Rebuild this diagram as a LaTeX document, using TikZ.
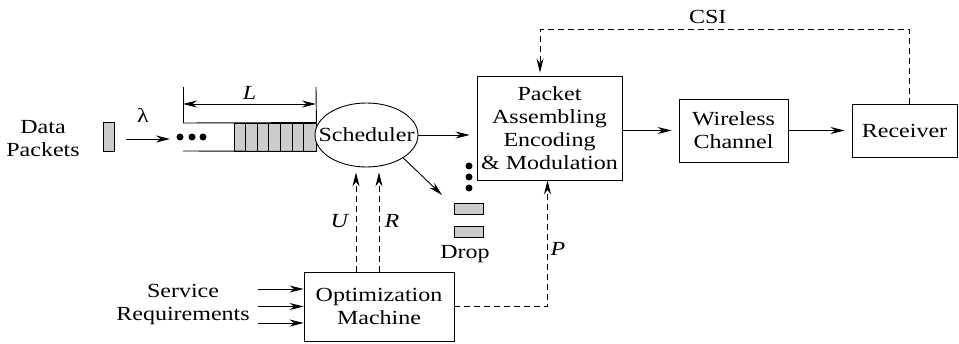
\documentclass[tikz,border=0pt]{standalone}
\usepackage{fontspec}
\setmainfont{Liberation Serif}[FakeStretch=1.2]
\usetikzlibrary{arrows.meta,shapes.geometric}
\begin{document}
\begin{tikzpicture}[x=1pt,y=-1pt,
                    font=\fontsize{20}{23}\selectfont,
                    blk/.style = {draw, line width=0.9pt,
                                  align=center, inner sep=2pt},
                    pkt/.style = {draw, line width=0.9pt, fill=gray!40,
                                  inner sep=0pt},
                    txt/.style = {align=center, inner sep=0pt},
                    arr/.style = {line width=0.9pt,
                                  -{Stealth[length=14pt,width=7pt]}},
                    dsh/.style = {line width=0.9pt,
                                  dash pattern=on 6pt off 4pt},
                    dot/.style = {circle, fill, inner sep=0pt,
                                  minimum size=7pt}]
		\useasboundingbox (0,0) rectangle (959,344);
		% incoming packets
		\node[txt] (data) at (43,139) {Data\\Packets};
		\node[pkt, minimum width=11pt, minimum height=29pt] (inpkt) at (108.5,136.5) {};
		\coordinate (lamtail) at (126,139);
		\coordinate (lamtip) at (170,139);
		\draw[arr] (lamtail) -- (lamtip);
		\node[txt] (lam) at (143,115) {λ};
		\foreach \x [count=\i] in {180,192,203}
			\node[dot] (qd\i) at (\x,137) {};
		% queue
		\node[pkt, minimum width=82pt, minimum height=28pt] (cells) at (275,137) {};
		\foreach \i in {1,...,6}
			\draw[line width=0.9pt] ([xshift=\i*11.714pt]cells.north west) -- ([xshift=\i*11.714pt]cells.south west);
		\coordinate (qtop) at (183,123);
		\coordinate (qbot) at (183,151);
		\draw[line width=0.9pt] (qtop) -- (cells.north east);
		\draw[line width=0.9pt] (qbot) -- (cells.south east);
		\coordinate (ltop) at (183,87);
		\coordinate (rtop) at (316,87);
		\draw[line width=0.9pt] (ltop) -- (qtop);
		\draw[line width=0.9pt] (rtop) -- (cells.north east);
		\draw[line width=0.9pt, {Stealth[length=14pt,width=7pt]}-{Stealth[length=14pt,width=7pt]}]
			([yshift=-17pt]ltop) -- node[above=1pt] (llab) {\textit{L}} ([yshift=-17pt]rtop);
		% scheduler and blocks
		\node[draw, ellipse, line width=0.9pt, inner sep=0pt, fill=white,
		      minimum width=103pt, minimum height=64pt] (sched) at (366.5,135) {};
		\node[txt] (schedlab) at (sched) {Scheduler};
		\node[blk, minimum width=145pt, minimum height=104pt] (pack) at (549.5,128)
			{Packet\\Assembling\\Encoding\\\& Modulation};
		\node[blk, minimum width=109pt, minimum height=63pt] (chan) at (733.5,130.5)
			{Wireless\\Channel};
		\node[blk, minimum width=105pt, minimum height=53pt] (rec) at (904.5,130.5) {Receiver};
		\node[blk, minimum width=150pt, minimum height=69pt] (opt) at (379,306.5)
			{Optimization\\Machine};
		\path[arr, shorten >=7pt] (sched.east) edge (sched.east -| pack.west);
		\path[arr, shorten >=7pt] (pack.east |- chan) edge (chan.west);
		\path[arr, shorten >=7pt] (chan.east |- rec) edge (rec.west);
		% dropped packets
		\coordinate (droptip) at (442,195);
		\draw[arr] (sched.-32) -- (droptip);
		\foreach \y [count=\i] in {166,177,188}
			\node[dot] (dd\i) at (469,\y) {};
		\node[pkt, minimum width=29pt, minimum height=11pt] (drop1) at (468.5,208.5) {};
		\node[pkt, minimum width=29pt, minimum height=11pt] (drop2) at (468.5,231.5) {};
		\node[txt] (droplab) at (465,254) {Drop};
		% control signals
		\draw[dsh, arr, shorten >=5pt] ([xshift=-23pt]opt.north) -- ([xshift=-23pt]opt.north |- sched.south);
		\draw[dsh, arr, shorten >=5pt] (opt.north) -- (opt.north |- sched.south);
		\node[txt] (ulab) at (340,221) {\textit{U}};
		\node[txt] (rlab) at (392,221) {\textit{R}};
		\draw[dsh, arr] (opt.east) -| ([xshift=-2pt]pack.south);
		\node[txt] (plab) at (558,249) {\textit{P}};
		\draw[dsh, arr, shorten >=3pt] ([xshift=5pt]rec.north) -- ++(0,-74)
			-| node[pos=0.273, above=2pt] (csi) {CSI} ([xshift=-9.5pt]pack.north);
		% service requirements
		\node[txt] (serv) at (183,305) {Service\\Requirements};
		\foreach \dy in {-17.5,0,16.5}
			\draw[arr] ([shift={(-46,\dy)}]opt.west) -- ([shift={(0,\dy)}]opt.west);
	\end{tikzpicture}
\end{document}
